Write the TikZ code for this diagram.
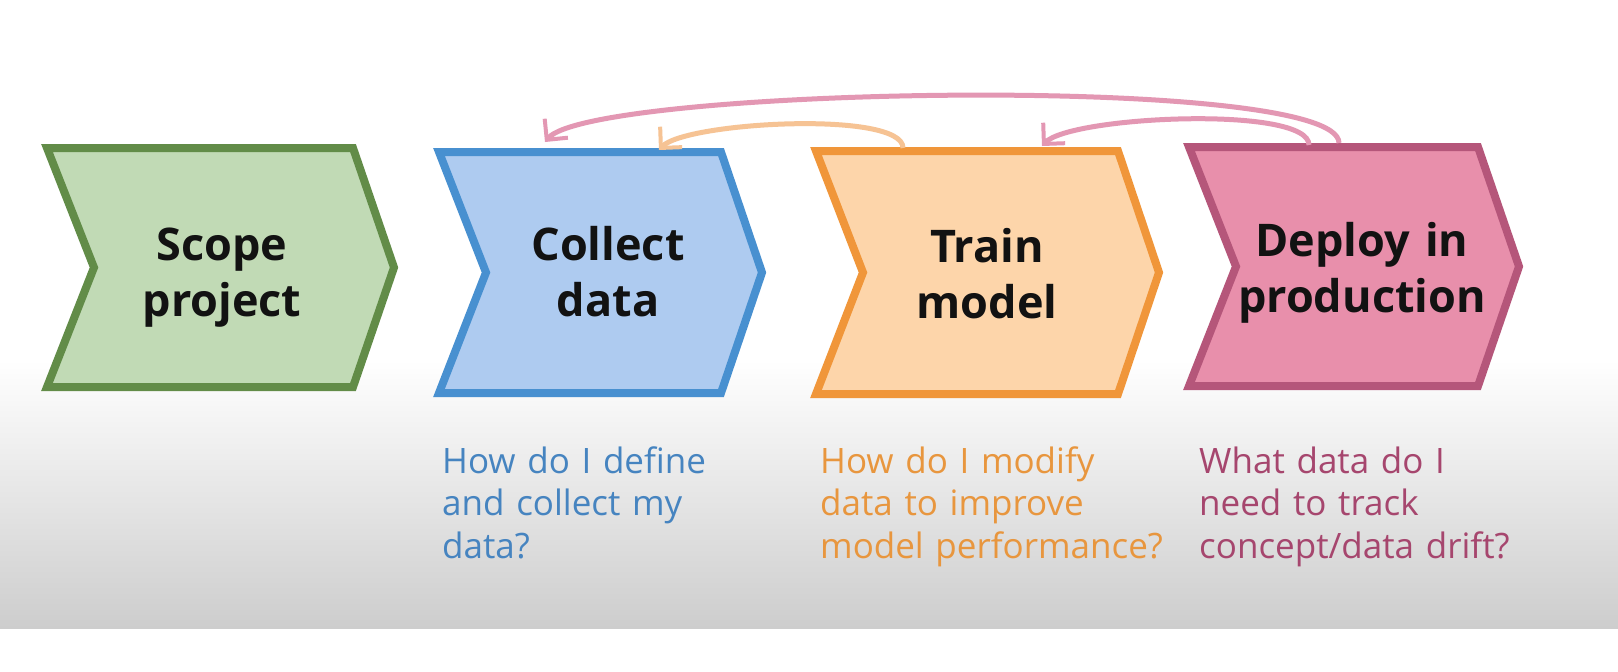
\documentclass[tikz,border=0pt]{standalone}
\usepackage{fontspec}
\setmainfont{Open Sans}
\usetikzlibrary{arrows.meta}
\definecolor{bggray}{RGB}{205,205,205}
\definecolor{sfill}{RGB}{193,218,181}
\definecolor{sline}{RGB}{98,140,72}
\definecolor{cfill}{RGB}{174,203,240}
\definecolor{cline}{RGB}{72,144,208}
\definecolor{tfill}{RGB}{253,213,170}
\definecolor{tline}{RGB}{240,150,58}
\definecolor{dfill}{RGB}{232,143,171}
\definecolor{dline}{RGB}{181,86,122}
\definecolor{ctext}{RGB}{70,132,192}
\definecolor{ttext}{RGB}{232,150,62}
\definecolor{dtext}{RGB}{166,70,110}
\definecolor{pinkback}{RGB}{227,151,179}
\definecolor{orangeback}{RGB}{246,195,148}
\tikzset{
  title/.style={font=\fontsize{45}{56}\selectfont\bfseries, text=black!93, text width=340pt, align=center, inner sep=0pt},
  question/.style={font=\fontsize{35}{42.5}\selectfont, text width=380pt, align=left, inner sep=0pt},
  backarrow/.style={line width=5pt, -{Straight Barb[length=15pt,width=30pt,line width=4pt]}}
}
\begin{document}
\begin{tikzpicture}[x=1pt,y=-1pt,line join=miter]
\useasboundingbox (0,0) rectangle (1618,672);
\fill[white] (0,0) rectangle (1618,672);
\shade[top color=white, bottom color=bggray] (0,360) rectangle (1618,628);
\pgfmathsetmacro\tip{41};
\pgfmathsetmacro\notch{47};
% the four stages
\foreach \xl/\yt/\xr/\yb/\fc/\dc in {47/148/353/387/sfill/sline, 439/152/721/393/cfill/cline, 816/151/1118/394/tfill/tline, 1189/147/1478/386/dfill/dline}
  \draw [fill = \fc, draw = \dc, line width = 8pt] (\xl,\yt) -- (\xr,\yt) -- (\xr+\tip,{(\yt+\yb)/2}) -- (\xr,\yb) -- (\xl,\yb) -- (\xl+\notch,{(\yt+\yb)/2}) -- cycle;
\node[title, anchor=base] (scope) at (222,260) {Scope\\project};
\node[title, anchor=base] (collect) at (608,260) {Collect\\data};
\node[title, anchor=base] (train) at (987,262) {Train\\model};
\node[title, anchor=base] (deploy) at (1362,256) {Deploy in\\production};
% questions under the stages
\node[question, text=ctext, anchor=base west] (collect-q) at (442,473) {How do I define\\and collect my\\data?};
\node[question, text=ttext, anchor=base west] (train-q) at (820,473) {How do I modify\\data to improve\\model performance?};
\node[question, text=dtext, anchor=base west] (deploy-q) at (1199,473) {What data do I\\need to track\\concept/data drift?};
% loops back
\coordinate (deploy-a) at (1339,143);
\coordinate (deploy-b) at (1309,145);
\coordinate (train-a) at (903,148);
\coordinate (train-b) at (1042,146);
\coordinate (collect-a) at (545,142);
\coordinate (collect-b) at (659,150);
\draw [backarrow, draw = pinkback] (deploy-a) .. controls +(0,-70) and +(45,-55) .. (collect-a);
\draw [backarrow, draw = pinkback] (deploy-b) .. controls +(0,-40) and +(28,-30) .. (train-b);
\draw [backarrow, draw = orangeback] (train-a) .. controls +(0,-38) and +(26,-28) .. (collect-b);
\end{tikzpicture}
\end{document}
